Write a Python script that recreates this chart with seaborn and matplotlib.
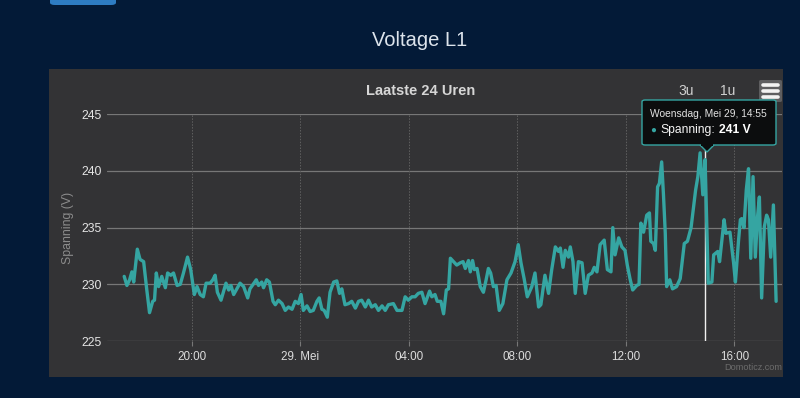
import numpy as np
import pandas as pd
import seaborn as sns
import matplotlib.pyplot as plt
from matplotlib.patches import Rectangle, FancyBboxPatch, Polygon

# minutes relative to 29 May 2019, 00:00 (negative = 28 May)
minutes = [
    -389, -383, -377, -372, -368, -360, -354, -346, -339, -333, -326, -322,
    -318, -313, -306, -298, -293, -286, -280, -272, -265, -258, -249, -242,
    -234, -228, -221, -214, -208, -199, -193, -188, -183, -175, -164, -158,
    -153, -147, -140, -133, -125, -116, -111, -97, -92, -85, -81, -74, -68,
    -60, -55, -48, -40, -33, -26, -18, -11, -4, 2, 7, 15, 22, 29, 37, 42, 48,
    53, 60, 66, 74, 81, 87, 92, 99, 107, 114, 122, 129, 136, 144, 151, 158,
    166, 173, 181, 188, 195, 206, 214, 225, 232, 239, 247, 254, 261, 269, 276,
    286, 291, 298, 303, 311, 317, 323, 328, 332, 339, 346, 354, 360, 365, 372,
    376, 381, 385, 391, 398, 405, 411, 416, 421, 427, 433, 440, 448, 457, 466,
    475, 482, 488, 495, 502, 512, 519, 527, 532, 541, 549, 556, 564, 571, 575,
    581, 586, 593, 597, 603, 608, 615, 623, 630, 637, 645, 650, 656, 663, 672,
    679, 687, 691, 696, 704, 711, 718, 723, 729, 735, 744, 749, 753, 759, 766,
    772, 775, 781, 785, 790, 794, 799, 803, 807, 810, 817, 823, 832, 840, 849,
    856, 864, 874, 879, 884, 890, 895, 902, 910, 914, 923, 927, 937, 941, 950,
    958, 962, 969, 973, 976, 981, 986, 991, 996, 1001, 1006, 1011, 1015, 1020,
    1026, 1031, 1035, 1040, 1046, 1052,
]
volts = [
    230.7, 229.9, 230.4, 231.1, 230.2, 233.1, 232.2, 232.0, 229.5, 227.5, 228.5, 228.6,
    231.0, 229.8, 230.7, 229.7, 231.0, 230.8, 231.0, 229.9, 230.0, 231.0, 232.4, 231.3,
    229.1, 229.8, 229.1, 228.9, 230.1, 230.1, 230.4, 230.8, 229.3, 228.6, 230.1, 229.5,
    229.9, 229.1, 229.6, 230.1, 229.8, 228.8, 229.6, 230.4, 229.9, 230.2, 229.7, 230.4, 230.2,
    228.5, 228.2, 228.6, 228.3, 227.7, 228.0, 227.8, 228.5, 228.3, 229.1, 227.7, 228.1, 227.6, 227.7, 228.5, 228.8, 227.8,
    227.7, 227.1, 229.3, 230.2, 230.3, 229.2, 229.6, 228.2, 228.3, 228.5, 227.9, 228.5, 228.6, 228.0, 228.6, 228.0,
    228.2, 227.7, 228.1, 227.7, 228.2, 228.3, 227.7, 227.7, 228.9, 228.6, 228.9, 228.9, 229.2, 229.3, 228.3,
    229.4, 228.9, 229.1, 228.5, 228.5, 227.4, 229.5, 229.6, 232.3, 232.0, 231.7, 231.9, 232.0, 231.4, 232.1,
    231.1, 232.1, 231.3, 231.4, 229.8, 229.3, 230.4, 231.4, 231.0, 229.8, 229.9, 227.7, 228.3, 230.4, 231.0,
    232.0, 233.5, 231.9, 230.5, 228.9, 229.8, 231.0, 228.0, 228.2, 230.8, 229.2, 231.3, 233.3, 232.9, 233.2,
    231.5, 233.0, 232.4, 233.3, 232.0, 229.2, 232.0, 231.9, 229.2, 230.8, 231.0, 231.5, 231.1, 233.5, 233.9,
    231.3, 231.1, 235.0, 232.6, 234.1, 233.3, 233.0, 231.7, 230.5, 229.5, 229.9, 230.0, 235.4, 234.6, 236.1,
    236.3, 233.8, 233.6, 233.0, 238.6, 238.9, 240.8, 237.9, 234.5, 229.8, 230.4, 229.6, 229.8, 230.5, 233.6,
    233.8, 235.0, 238.3, 239.5, 241.6, 237.9, 241.0, 230.1, 230.2, 232.6, 232.9, 232.0, 235.7, 234.5, 234.6,
    231.9, 230.2, 233.9, 235.7, 235.8, 235.0, 238.3, 240.2, 232.3, 239.5, 232.4, 236.0, 237.7, 228.8,
    235.1, 236.1, 235.7, 232.4, 237.0, 228.5,
]

tick_minutes = [-240, 0, 240, 480, 720, 960]
tick_labels = ["20:00", "29. Mei", "04:00", "08:00", "12:00", "16:00"]
y_ticks = [225, 230, 235, 240, 245]
hover_minute = 895
hover_label = "Woensdag, Mei 29, 14:55"
hover_value = "241 V"

W, H = 800, 398
NAVY = "#031a37"
PANEL = "#333335"
TEAL = "#35a5a2"
FONT = ["Liberation Sans", "DejaVu Sans"]


def fx(px):
    return px / W


def fy(py):
    return 1 - py / H


base = pd.Timestamp("2019-05-29 00:00")
df = pd.DataFrame({
    "time": base + pd.to_timedelta(minutes, unit="min"),
    "volt": volts,
})

sns.set_style("dark")
plt.rcParams["font.family"] = FONT

fig = plt.figure(figsize=(W / 100, H / 100), dpi=100, facecolor=NAVY)

# chart panel and blue button stub
fig.patches.append(Rectangle((fx(49), fy(377)), fx(734), 308 / H,
                             transform=fig.transFigure, facecolor=PANEL,
                             edgecolor="none", zorder=-2))
fig.patches.append(FancyBboxPatch((fx(50), fy(5)), fx(66), 12 / H,
                                  boxstyle="round,pad=0,rounding_size=0.006",
                                  transform=fig.transFigure, facecolor="#2e7cc2",
                                  edgecolor="none", zorder=-2))

ax = fig.add_axes([fx(107), fy(341), fx(675), 226.7 / H])
ax.set_facecolor("none")
ax.set_zorder(1)

ax.axvline(base + pd.Timedelta(minutes=hover_minute), color="#f0f0f0", lw=1.0, zorder=1.5)
sns.lineplot(data=df, x="time", y="volt", color=TEAL, linewidth=2.4, ax=ax, zorder=3)

ax.set_ylim(225, 245)
ax.set_xlim(base + pd.Timedelta(minutes=-427), base + pd.Timedelta(minutes=1065))
ax.set_yticks(y_ticks)
ax.set_yticklabels([str(v) for v in y_ticks])
tick_times = base + pd.to_timedelta(tick_minutes, unit="min")
ax.set_xticks(list(tick_times.to_pydatetime()))
ax.set_xticklabels(tick_labels)

ax.grid(False)
for v in y_ticks:
    ax.axhline(v, color="#777777", lw=0.9, zorder=1)
for t in tick_times:
    ax.axvline(t, color="#606060", lw=0.7, ls=(0, (1.5, 1.5)), zorder=1)

for s in ax.spines.values():
    s.set_visible(False)
ax.tick_params(axis="y", length=0, pad=4, labelsize=8.8, labelcolor="#e4e4e4")
ax.tick_params(axis="x", length=3.5, width=0.8, color="#777777", pad=4,
               labelsize=8.4, labelcolor="#dcdcdc", bottom=True)
ax.set_xlabel("")
ax.set_ylabel("Spanning (V)", color="#8c8c8c", fontsize=8.8, labelpad=5)

# titles and buttons
fig.text(fx(420), fy(40), "Voltage L1", ha="center", va="center",
         fontsize=14.5, color="#dde4ec")
fig.text(fx(420.5), fy(91), "Laatste 24 Uren", ha="center", va="center",
         fontsize=10.5, fontweight="bold", color="#d6d6d6")
fig.text(fx(686), fy(91), "3u", ha="center", va="center", fontsize=10, color="#d0d0d0")
fig.text(fx(728), fy(91), "1u", ha="center", va="center", fontsize=10, color="#d0d0d0")
fig.patches.append(FancyBboxPatch((fx(759), fy(102)), fx(23), 22 / H,
                                  boxstyle="round,pad=0,rounding_size=0.003",
                                  transform=fig.transFigure, facecolor="#5e5e60",
                                  edgecolor="none", zorder=2))
for yy in (85, 91, 97):
    fig.add_artist(plt.Line2D([fx(762.5), fx(777.5)], [fy(yy), fy(yy)], color="#f2f2f2",
                              lw=2.6, solid_capstyle="round", transform=fig.transFigure,
                              zorder=3))
fig.text(fx(782), fy(368), "Domoticz.com", ha="right", va="center",
         fontsize=6.6, color="#6c6c6c")

# tooltip
fig.patches.append(Polygon([(fx(700), fy(145)), (fx(714), fy(145)), (fx(707), fy(152))],
                           closed=True, transform=fig.transFigure, facecolor="#0c0d0e",
                           edgecolor=TEAL, lw=1, zorder=5))
fig.patches.append(FancyBboxPatch((fx(642), fy(145)), fx(134), 45 / H,
                                  boxstyle="round,pad=0,rounding_size=0.004",
                                  transform=fig.transFigure, facecolor="#0c0d0e",
                                  edgecolor=TEAL, lw=1, zorder=5))
fig.patches.append(Rectangle((fx(701), fy(146.2)), fx(12), 2 / H,
                             transform=fig.transFigure, facecolor="#0c0d0e",
                             edgecolor="none", zorder=6))
fig.text(fx(650), fy(114), hover_label, ha="left", va="center",
         fontsize=7.4, color="#e2e2e2", zorder=7)
fig.text(fx(650.5), fy(130), "\u25cf", ha="left", va="center",
         fontsize=7, color=TEAL, zorder=7)
fig.text(fx(660.5), fy(130), "Spanning:", ha="left", va="center",
         fontsize=8.7, color="#f4f4f4", zorder=7)
fig.text(fx(719), fy(130), hover_value, ha="left", va="center",
         fontsize=8.7, fontweight="bold", color="#ffffff", zorder=7)

fig.savefig("out.png", dpi=100, facecolor=NAVY)
